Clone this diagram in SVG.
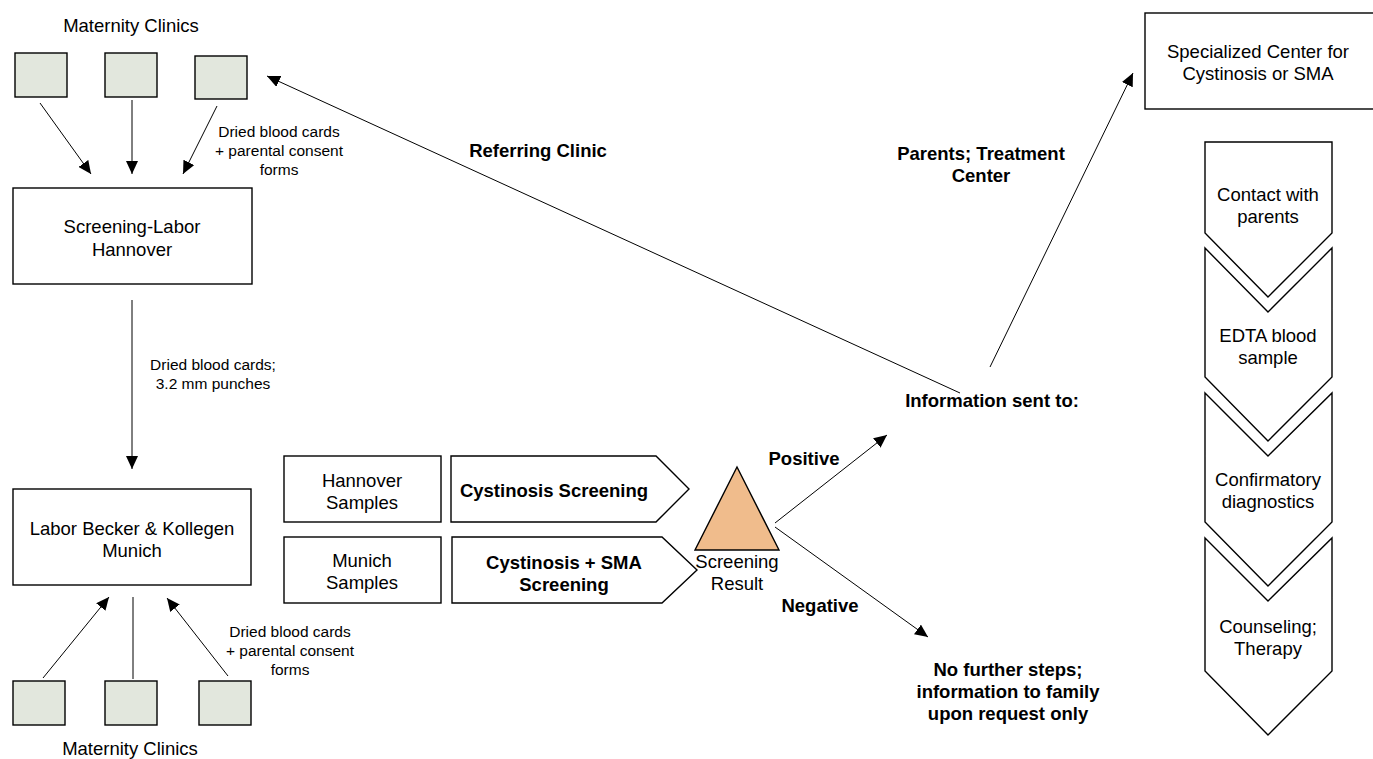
<svg xmlns="http://www.w3.org/2000/svg" width="1373" height="759" viewBox="0 0 1373 759">
<style>
text{font-family:"Liberation Sans",Arial,sans-serif;fill:#000;text-anchor:middle}
.t{font-size:18.5px}
.b{font-size:18.5px;font-weight:bold}
.s{font-size:15.5px}
.box{fill:#fff;stroke:#000;stroke-width:1.4}
.clinic{fill:#e2e7dd;stroke:#000;stroke-width:1.4}
.ln{stroke:#000;stroke-width:1;fill:none}
.arr{stroke:#000;stroke-width:1;fill:none;marker-end:url(#ah)}
</style>
<defs>
<marker id="ah" markerUnits="userSpaceOnUse" markerWidth="14" markerHeight="12" refX="13" refY="6" orient="auto">
<path d="M0,0 L13,6 L0,12 z" fill="#000"/>
</marker>
</defs>
<rect width="1373" height="759" fill="#fff"/>

<g id="connectors">
<line class="arr" x1="40" y1="103" x2="91" y2="174"/>
<line class="arr" x1="132" y1="100" x2="132" y2="174"/>
<line class="arr" x1="217" y1="106" x2="183" y2="174"/>
<line class="arr" x1="132" y1="300" x2="132" y2="469"/>
<line class="arr" x1="43" y1="678" x2="109" y2="597"/>
<line class="ln" x1="133" y1="597" x2="133" y2="679"/>
<line class="arr" x1="228" y1="676" x2="167" y2="598"/>
<line class="arr" x1="960" y1="393" x2="267" y2="76"/>
<line class="arr" x1="990" y1="367" x2="1133" y2="73"/>
<line class="arr" x1="775" y1="523" x2="887" y2="435"/>
<line class="arr" x1="775" y1="527" x2="928" y2="637"/>
</g>

<g id="clinics-top">
<text class="t" x="131" y="32">Maternity Clinics</text>
<rect class="clinic" x="15" y="53" width="52" height="44"/>
<rect class="clinic" x="105" y="53" width="52" height="44"/>
<rect class="clinic" x="195" y="56" width="52" height="43"/>
</g>
<g id="label-top">
<text class="s" x="279" y="137">Dried blood cards</text>
<text class="s" x="279" y="156">+ parental consent</text>
<text class="s" x="279" y="175">forms</text>
</g>

<g id="hannover-lab">
<rect class="box" x="13" y="188" width="239" height="96"/>
<text class="t" x="132" y="233">Screening-Labor</text>
<text class="t" x="132" y="256">Hannover</text>
</g>

<g id="label-mid">
<text class="s" x="213" y="370">Dried blood cards;</text>
<text class="s" x="213" y="389">3.2 mm punches</text>
</g>

<g id="munich-lab">
<rect class="box" x="13" y="489" width="238" height="96"/>
<text class="t" x="132" y="535">Labor Becker &amp; Kollegen</text>
<text class="t" x="132" y="557">Munich</text>
</g>

<g id="clinics-bottom">
<rect class="clinic" x="13" y="681" width="52" height="44"/>
<rect class="clinic" x="105" y="681" width="52" height="44"/>
<rect class="clinic" x="199" y="681" width="52" height="44"/>
<text class="t" x="130" y="755">Maternity Clinics</text>
</g>
<g id="label-bottom">
<text class="s" x="290" y="637">Dried blood cards</text>
<text class="s" x="290" y="656">+ parental consent</text>
<text class="s" x="290" y="675">forms</text>
</g>

<g id="hannover-samples">
<rect class="box" x="284" y="456" width="157" height="66"/>
<text class="t" x="362" y="487">Hannover</text>
<text class="t" x="362" y="509">Samples</text>
</g>
<g id="munich-samples">
<rect class="box" x="284" y="537" width="157" height="66"/>
<text class="t" x="362" y="567">Munich</text>
<text class="t" x="362" y="589">Samples</text>
</g>

<g id="cystinosis-screening">
<polygon class="box" points="451,456 656,456 689,489 656,522 451,522"/>
<text class="b" x="554" y="497">Cystinosis Screening</text>
</g>
<g id="cystinosis-sma-screening">
<polygon class="box" points="452,537 662,537 697,570 662,603 452,603"/>
<text class="b" x="564" y="569">Cystinosis + SMA</text>
<text class="b" x="564" y="591">Screening</text>
</g>

<g id="screening-result">
<polygon points="737,467 779,550 695,550" fill="#f0bc8c" stroke="#000" stroke-width="1.4"/>
<text class="t" x="737" y="568">Screening</text>
<text class="t" x="737" y="590">Result</text>
</g>

<g id="labels-result">
<text class="b" x="804" y="465">Positive</text>
<text class="b" x="820" y="612">Negative</text>
</g>

<g id="info-sent">
<text class="b" x="992" y="407">Information sent to:</text>
</g>
<g id="referring-clinic">
<text class="b" x="538" y="157">Referring Clinic</text>
</g>
<g id="parents-center">
<text class="b" x="981" y="160">Parents; Treatment</text>
<text class="b" x="981" y="182">Center</text>
</g>
<g id="no-further">
<text class="b" x="1008" y="676">No further steps;</text>
<text class="b" x="1008" y="698">information to family</text>
<text class="b" x="1008" y="720">upon request only</text>
</g>

<g id="specialized-center">
<rect class="box" x="1145" y="13" width="240" height="96"/>
<text class="t" x="1258" y="58">Specialized Center for</text>
<text class="t" x="1258" y="80">Cystinosis or SMA</text>
</g>

<g id="step-contact">
<polygon class="box" points="1205,142 1332,142 1332,233 1268,297 1205,233"/>
<text class="t" x="1268" y="201">Contact with</text>
<text class="t" x="1268" y="223">parents</text>
</g>
<g id="step-edta">
<polygon class="box" points="1205,248 1268,312 1332,248 1332,377 1268,441 1205,377"/>
<text class="t" x="1268" y="342">EDTA blood</text>
<text class="t" x="1268" y="364">sample</text>
</g>
<g id="step-confirm">
<polygon class="box" points="1205,393 1268,456 1332,393 1332,522 1268,586 1205,522"/>
<text class="t" x="1268" y="486">Confirmatory</text>
<text class="t" x="1268" y="508">diagnostics</text>
</g>
<g id="step-counsel">
<polygon class="box" points="1205,538 1268,601 1332,538 1332,671 1268,735 1205,671"/>
<text class="t" x="1268" y="633">Counseling;</text>
<text class="t" x="1268" y="655">Therapy</text>
</g>
</svg>
